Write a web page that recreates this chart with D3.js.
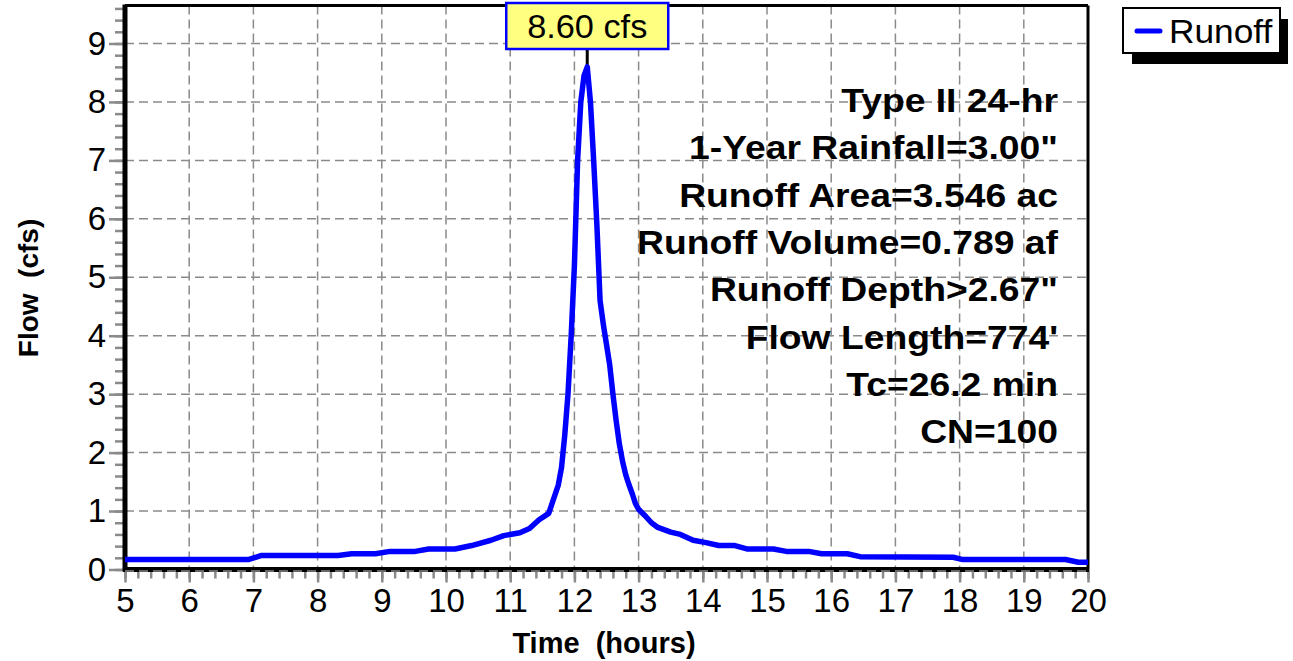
<!DOCTYPE html>
<html><head><meta charset="utf-8">
<script src="https://cdn.jsdelivr.net/npm/d3@7"></script>
<style>
body{margin:0;background:#fff}
svg{display:block}
text{font-family:"Liberation Sans",Arial,sans-serif}
</style>
</head><body>
<svg id="c" width="1293" height="661"></svg>
<script>
// ---- data ----
const times = [5.0, 6.92, 7.13, 8.32, 8.53, 8.9, 9.13, 9.52, 9.73, 10.14, 10.4, 10.7, 10.9, 11.15, 11.3, 11.45, 11.6,
  11.75, 11.8, 11.85, 11.9, 11.95, 12.0, 12.05, 12.1, 12.15, 12.2, 12.25, 12.3, 12.35, 12.4, 12.45, 12.5, 12.55,
  12.6, 12.65, 12.7, 12.75, 12.8, 12.85, 12.9, 12.95, 13.0, 13.1, 13.2, 13.3, 13.5, 13.65, 13.85, 14.05, 14.25,
  14.5, 14.7, 15.1, 15.3, 15.65, 15.85, 16.25, 16.45, 17.9, 18.05, 19.65, 19.85, 20.0];
const flows = [0.17, 0.17, 0.24, 0.24, 0.27, 0.27, 0.31, 0.31, 0.35, 0.35, 0.41, 0.50, 0.58, 0.63, 0.70, 0.85, 0.96,
  1.45, 1.75, 2.3, 3.0, 4.0, 5.2, 7.0, 8.0, 8.45, 8.60, 8.0, 7.0, 5.9, 4.6, 4.2, 3.85, 3.5,
  3.0, 2.55, 2.15, 1.85, 1.62, 1.45, 1.3, 1.13, 1.03, 0.92, 0.80, 0.72, 0.64, 0.60, 0.50, 0.46, 0.41,
  0.41, 0.35, 0.35, 0.31, 0.31, 0.27, 0.27, 0.22, 0.21, 0.17, 0.17, 0.125, 0.125];
const xTicks = [5,6,7,8,9,10,11,12,13,14,15,16,17,18,19,20];
const yTicks = [0,1,2,3,4,5,6,7,8,9];
const annotations = ["Type II 24-hr", "1-Year Rainfall=3.00\"", "Runoff Area=3.546 ac", "Runoff Volume=0.789 af",
  "Runoff Depth>2.67\"", "Flow Length=774'", "Tc=26.2 min", "CN=100"];
const peakTime = 12.2, peakFlow = 8.60, peakLabel = "8.60 cfs";
const seriesName = "Runoff";
const xTitle = "Time  (hours)", yTitle = "Flow  (cfs)";

// ---- layout ----
const L = 125, R = 1088, T = 5.5, B = 569.5;
const svg = d3.select("#c");
const x = d3.scaleLinear().domain([5, 20]).range([L, R]);
const y = d3.scaleLinear().domain([0, 9.65]).range([B, T]);
const gray = "#8a8a8a";

// grid
const grid = svg.append("g").attr("stroke", gray).attr("stroke-width", 1.5).attr("stroke-dasharray", "9,5");
grid.selectAll(".gx").data(xTicks.slice(1, -1)).join("line")
  .attr("x1", d => x(d)).attr("x2", d => x(d)).attr("y1", T).attr("y2", B);
grid.selectAll(".gy").data(yTicks.slice(1)).join("line")
  .attr("y1", d => y(d)).attr("y2", d => y(d)).attr("x1", L).attr("x2", R);

// frame top/right
svg.append("line").attr("x1", L).attr("x2", R).attr("y1", T).attr("y2", T).attr("stroke", "#000").attr("stroke-width", 3);
svg.append("line").attr("x1", R).attr("x2", R).attr("y1", T).attr("y2", B).attr("stroke", "#000").attr("stroke-width", 3);

// minor ticks
const yMinor = d3.range(0, 9.61, 0.2);
const xMinor = d3.range(5, 20.01, 0.2);
const yMin = svg.append("g").attr("transform", `translate(${L},0)`)
  .call(d3.axisLeft(y).tickValues(yMinor).tickSize(10).tickFormat(""));
const xMin = svg.append("g").attr("transform", `translate(0,${B})`)
  .call(d3.axisBottom(x).tickValues(xMinor).tickSize(9).tickFormat(""));
// major ticks
const yAx = svg.append("g").attr("transform", `translate(${L},0)`)
  .call(d3.axisLeft(y).tickValues(yTicks).tickSize(16).tickPadding(3).tickFormat(d3.format("d")));
const xAx = svg.append("g").attr("transform", `translate(0,${B})`)
  .call(d3.axisBottom(x).tickValues(xTicks).tickSize(13).tickPadding(6).tickFormat(d3.format("d")));
[yMin, xMin, yAx, xAx].forEach(g => {
  g.select(".domain").remove();
  g.selectAll(".tick line").attr("stroke", gray).attr("stroke-width", 2.5);
});
yAx.selectAll(".tick text").attr("font-size", 33).attr("fill", "#000").attr("font-family", "Liberation Sans, Arial, sans-serif");
xAx.selectAll(".tick text").attr("font-size", 33).attr("fill", "#000").attr("font-family", "Liberation Sans, Arial, sans-serif");

// axis lines thick
svg.append("line").attr("x1", L).attr("x2", L).attr("y1", T - 1).attr("y2", B + 2).attr("stroke", "#000").attr("stroke-width", 5);
svg.append("line").attr("x1", L - 2).attr("x2", R + 1).attr("y1", B).attr("y2", B).attr("stroke", "#000").attr("stroke-width", 5);
svg.append("line").attr("x1", L).attr("x2", R).attr("y1", B + 1.5).attr("y2", B + 1.5)
  .attr("stroke", gray).attr("stroke-width", 1.5).attr("stroke-dasharray", "9,5");

// axis titles
svg.append("text").attr("x", 604).attr("y", 653).attr("text-anchor", "middle")
  .attr("font-size", 29).attr("font-weight", "bold").style("white-space", "pre").text(xTitle);
svg.append("text").attr("transform", "translate(38,288) rotate(-90)").attr("text-anchor", "middle")
  .attr("font-size", 28).attr("font-weight", "bold").style("white-space", "pre").text(yTitle);

// annotations
const ann = svg.append("g");
ann.selectAll("text").data(annotations).join("text")
  .attr("transform", (d, i) => `translate(1058,${112 + i * 47.3}) scale(1.13,1)`)
  .attr("text-anchor", "end").attr("font-size", 33).attr("font-weight", "bold").text(d => d);

// peak leader line
svg.append("line").attr("x1", x(peakTime)).attr("x2", x(peakTime)).attr("y1", 48).attr("y2", y(peakFlow))
  .attr("stroke", "#000").attr("stroke-width", 3);

// curve
const data = times.map((t, i) => [t, flows[i]]);
svg.append("path").datum(data)
  .attr("fill", "none").attr("stroke", "#0000ff").attr("stroke-width", 5.5).attr("stroke-linejoin", "round")
  .attr("d", d3.line().x(d => x(d[0])).y(d => y(d[1])));

// peak label box
const bw = 162, bh = 46;
svg.append("rect").attr("x", x(peakTime) - bw / 2).attr("y", 3).attr("width", bw).attr("height", bh)
  .attr("fill", "#ffff80").attr("stroke", "#0000ff").attr("stroke-width", 2.5);
svg.append("text").attr("transform", `translate(${x(peakTime)},38) scale(1.04,1)`).attr("text-anchor", "middle")
  .attr("font-size", 33).text(peakLabel);

// legend
svg.append("rect").attr("x", 1132).attr("y", 19).attr("width", 156).attr("height", 45).attr("fill", "#000");
svg.append("rect").attr("x", 1123).attr("y", 8).attr("width", 157).attr("height", 45)
  .attr("fill", "#fff").attr("stroke", "#000").attr("stroke-width", 2);
svg.append("line").attr("x1", 1137).attr("x2", 1160).attr("y1", 31).attr("y2", 31)
  .attr("stroke", "#0000ff").attr("stroke-width", 5).attr("stroke-linecap", "round");
svg.append("text").attr("transform", "translate(1169,43) scale(1.07,1)").attr("font-size", 33).text(seriesName);
</script>
</body></html>
